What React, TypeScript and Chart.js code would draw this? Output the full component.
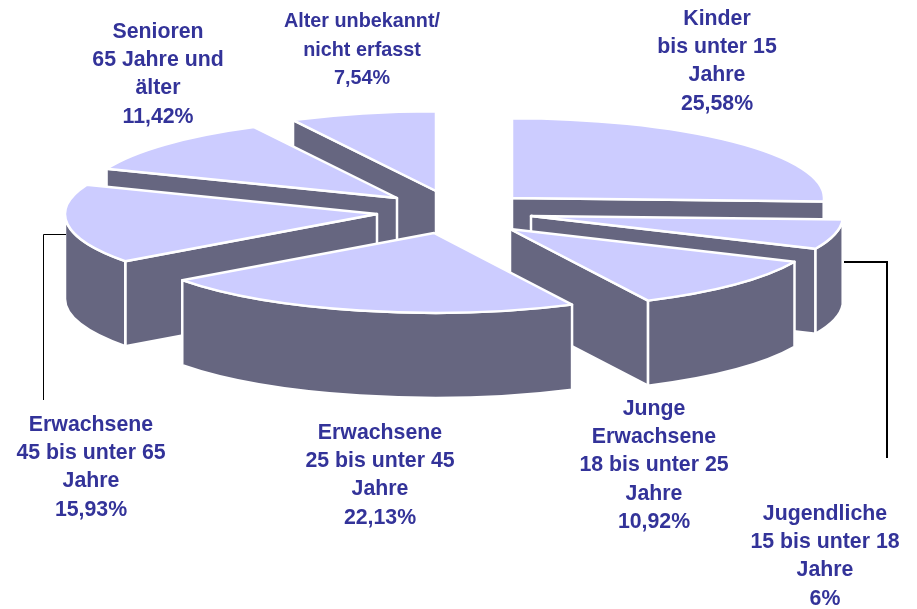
import React, { useEffect, useRef } from "react";
import { Chart, registerables } from "chart.js";

Chart.register(...registerables);

const categories = [
  "Kinder bis unter 15 Jahre",
  "Jugendliche 15 bis unter 18 Jahre",
  "Junge Erwachsene 18 bis unter 25 Jahre",
  "Erwachsene 25 bis unter 45 Jahre",
  "Erwachsene 45 bis unter 65 Jahre",
  "Senioren 65 Jahre und älter",
  "Alter unbekannt/ nicht erfasst",
];
const values = [25.58, 6, 10.92, 22.13, 15.93, 11.42, 7.54];
const labelLines = [
  ["Kinder", "bis unter 15", "Jahre", "25,58%"],
  ["Jugendliche", "15 bis unter 18", "Jahre", "6%"],
  ["Junge", "Erwachsene", "18 bis unter 25", "Jahre", "10,92%"],
  ["Erwachsene", "25 bis unter 45", "Jahre", "22,13%"],
  ["Erwachsene", "45 bis unter 65", "Jahre", "15,93%"],
  ["Senioren", "65 Jahre und", "älter", "11,42%"],
  ["Alter unbekannt/", "nicht erfasst", "7,54%"],
];

// layout and style, separate from the data
const labelX = [717, 825, 654, 380, 91, 158, 362];
const labelY = [19, 514, 409, 433, 425, 32, 22];
const labelSize = [21.3, 21.3, 21.3, 21.3, 21.3, 21.3, 19.8];
const explodeX = [62, 81, 60, -16, -73, -53, -14];
const explodeY = [-12, 6, 19, 23, 4, -12, -19];
const paintOrder = [6, 5, 0, 4, 1, 2, 3];
const RADIUS = 312;
const SQUASH = 0.256;
const DEPTH = 85;
const TOP = "#CCCCFF";
const SIDE = "#666680";
const LINE_H = 28.3;
const leaders = [
  { w: 1, pts: [[43.5, 400], [43.5, 234.5], [66, 234.5]] },
  { w: 2, pts: [[844, 262], [887, 262], [887, 458]] },
];

const pie3d = {
  id: "pie3d",
  beforeDatasetsDraw(chart: any) {
    const ctx: CanvasRenderingContext2D = chart.ctx;
    const arcs = chart.getDatasetMeta(0).data;
    ctx.save();
    ctx.lineWidth = 2.5;
    ctx.lineJoin = "round";
    ctx.strokeStyle = "#FFFFFF";
    ctx.fillStyle = SIDE;
    // sweeps start at 12 o'clock and run clockwise; "front" is the lower half
    const face = (ax: number, ay: number, r: number, a: number) => {
      const ex = ax + r * Math.cos(a);
      const ey = ay + r * SQUASH * Math.sin(a);
      ctx.beginPath();
      ctx.moveTo(ax, ay);
      ctx.lineTo(ex, ey);
      ctx.lineTo(ex, ey + DEPTH);
      ctx.lineTo(ax, ay + DEPTH);
      ctx.closePath();
      ctx.fillStyle = SIDE;
      ctx.fill();
      ctx.stroke();
    };
    for (const i of paintOrder) {
      const { x, y, startAngle, endAngle, outerRadius: r } = arcs[i].getProps(
        ["x", "y", "startAngle", "endAngle", "outerRadius"],
        true
      );
      const ax = x + explodeX[i];
      const ay = y + explodeY[i];
      const s = startAngle;
      const e = endAngle;
      // s and e measured from +x axis; s = -PI/2 at the top
      const norm = (a: number) => ((a % (2 * Math.PI)) + 2 * Math.PI) % (2 * Math.PI);
      if (Math.cos(s) < -1e-3) face(ax, ay, r, s);
      if (Math.cos(e) > 1e-3) face(ax, ay, r, e);
      // outer wall: the part of the rim with sin(a) > 0
      const ws = Math.max(norm(s) > Math.PI ? 0 : norm(s), 0);
      let we = norm(e);
      if (we > Math.PI) we = Math.PI;
      if (norm(s) <= Math.PI && we > ws) {
        ctx.beginPath();
        ctx.ellipse(ax, ay, r, r * SQUASH, 0, ws, we);
        ctx.ellipse(ax, ay + DEPTH, r, r * SQUASH, 0, we, ws, true);
        ctx.closePath();
        ctx.fillStyle = SIDE;
        ctx.fill();
        ctx.stroke();
      }
      // top face
      ctx.beginPath();
      ctx.moveTo(ax, ay);
      ctx.ellipse(ax, ay, r, r * SQUASH, 0, s, e);
      ctx.closePath();
      ctx.fillStyle = TOP;
      ctx.fill();
      ctx.stroke();
    }
    ctx.restore();
    return false;
  },
  afterDraw(chart: any) {
    const ctx: CanvasRenderingContext2D = chart.ctx;
    ctx.save();
    ctx.strokeStyle = "#000000";
    for (const { w, pts } of leaders) {
      ctx.lineWidth = w;
      ctx.beginPath();
      pts.forEach(([px, py], k) => (k ? ctx.lineTo(px, py) : ctx.moveTo(px, py)));
      ctx.stroke();
    }
    ctx.fillStyle = "#333399";
    ctx.textAlign = "center";
    ctx.textBaseline = "middle";
    labelLines.forEach((lines, i) => {
      ctx.font = `bold ${labelSize[i]}px "Liberation Sans", Arial, sans-serif`;
      lines.forEach((t, k) => ctx.fillText(t, labelX[i], labelY[i] + k * LINE_H));
    });
    ctx.restore();
  },
};

export default function App() {
  const ref = useRef<HTMLCanvasElement>(null);
  useEffect(() => {
    document.body.style.margin = "0";
    document.body.style.background = "#FFFFFF";
    const chart = new Chart(ref.current!, {
      type: "pie",
      data: {
        labels: categories,
        datasets: [{ data: values, backgroundColor: TOP, borderColor: "#FFFFFF", radius: RADIUS } as any],
      },
      options: {
        responsive: false,
        animation: false,
        layout: { padding: { left: 0, right: 17, top: 0, bottom: 189 } },
        plugins: { legend: { display: false }, tooltip: { enabled: false } },
      },
      plugins: [pie3d as any],
    });
    return () => chart.destroy();
  }, []);
  return <canvas ref={ref} width={917} height={609} style={{ display: "block" }} />;
}
